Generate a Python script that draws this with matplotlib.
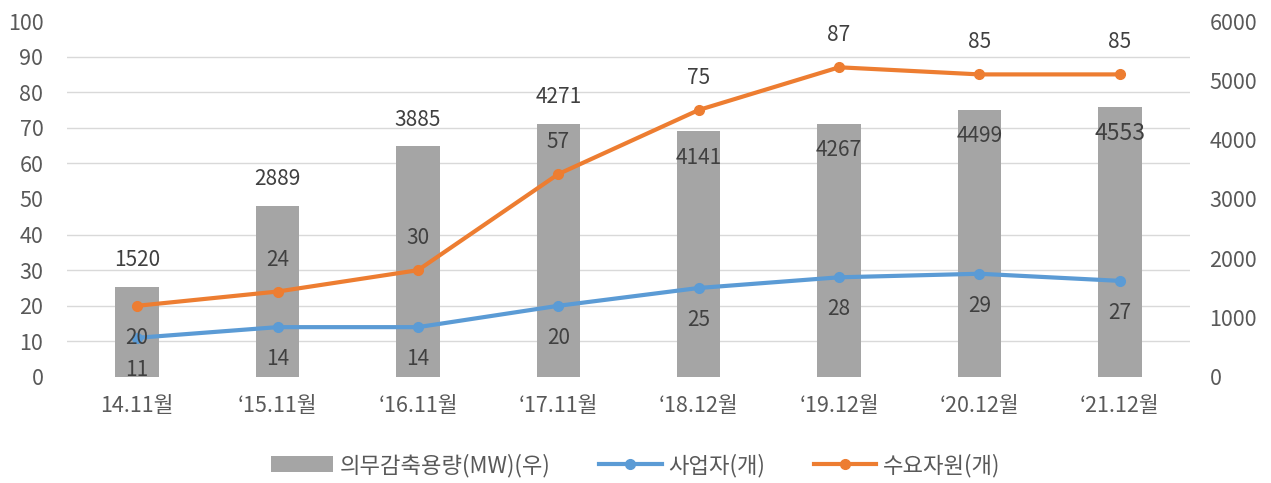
import numpy as np
import matplotlib
matplotlib.use("Agg")
import matplotlib.pyplot as plt

plt.rcParams["font.family"] = ["Noto Sans CJK KR", "DejaVu Sans"]

categories = ["14.11월", "\u201815.11월", "\u201816.11월", "\u201817.11월",
              "\u201818.12월", "\u201819.12월", "\u201820.12월", "\u201821.12월"]
capacity_mw = [1520, 2889, 3885, 4271, 4141, 4267, 4499, 4553]
operators = [11, 14, 14, 20, 25, 28, 29, 27]
resources = [20, 24, 30, 57, 75, 87, 85, 85]

# bar labels: above the bar for the first four, inside the top for the rest
bar_label_above = [True, True, True, True, False, False, False, False]
bar_label_size = [15, 15, 15, 15, 15, 15, 15, 16.5]
# orange labels sit above the point except the first one
res_label_above = [False, True, True, True, True, True, True, True]

BLUE = "#5B9BD5"
ORANGE = "#ED7D31"
GRAY = "#A5A5A5"
TXT = "#404040"
TICK = "#595959"

fig = plt.figure(figsize=(12.71, 4.83), dpi=100)
ax = fig.add_axes([0.0527, 0.2195, 0.8836, 0.737])
ax2 = ax.twinx()
ax.set_zorder(ax2.get_zorder() + 1)
ax.patch.set_visible(False)

x = np.arange(len(categories))

# bars on the right axis
bars = ax2.bar(x, capacity_mw, width=0.31, color=GRAY, zorder=2,
               label="의무감축용량(MW)(우)")
ax2.set_ylim(0, 6000)
ax2.set_yticks(np.arange(0, 6001, 1000))
ax2.set_yticks(np.arange(0, 6001, 600), minor=True)
ax2.grid(which="minor", axis="y", color="#D9D9D9", linewidth=1, zorder=0)
ax2.set_axisbelow(True)
ax2.tick_params(axis="y", which="both", length=0, pad=14, labelsize=15.5,
                labelcolor=TICK)

for xi, v, above, fs in zip(x, capacity_mw, bar_label_above, bar_label_size):
    ax2.annotate(str(v), (xi, v), xytext=(0, 19 if above else -19),
                 textcoords="offset points", ha="center", va="center",
                 fontsize=fs, color=TXT)

# lines on the left axis
ax.plot(x, operators, color=BLUE, lw=3, marker="o", ms=7, label="사업자(개)",
        zorder=3)
ax.plot(x, resources, color=ORANGE, lw=3, marker="o", ms=7, label="수요자원(개)",
        zorder=3)
ax.set_ylim(0, 100)
ax.set_yticks(np.arange(0, 101, 10))
ax.tick_params(axis="y", length=0, pad=17, labelsize=15.5, labelcolor=TICK)

for xi, v in zip(x, operators):
    ax.annotate(str(v), (xi, v), xytext=(0, -23), textcoords="offset points",
                ha="center", va="center", fontsize=15, color=TXT)
for xi, v, above in zip(x, resources, res_label_above):
    ax.annotate(str(v), (xi, v), xytext=(0, 23 if above else -23),
                textcoords="offset points", ha="center", va="center",
                fontsize=15, color=TXT)

ax.set_xlim(-0.5, len(categories) - 0.5)
ax.set_xticks(x)
ax.set_xticklabels(categories)
ax.tick_params(axis="x", length=0, pad=13, labelsize=15.5, labelcolor=TICK)

for a in (ax, ax2):
    for s in a.spines.values():
        s.set_visible(False)

handles = [bars] + ax.get_lines()
labels = [h.get_label() for h in handles]
fig.legend(handles, labels, loc="center", bbox_to_anchor=(0.5, 0.037),
           ncol=3, frameon=False, fontsize=16, labelcolor=TICK,
           handlelength=2.8, columnspacing=2.2, handletextpad=0.3)

fig.savefig("out.png", dpi=100)
